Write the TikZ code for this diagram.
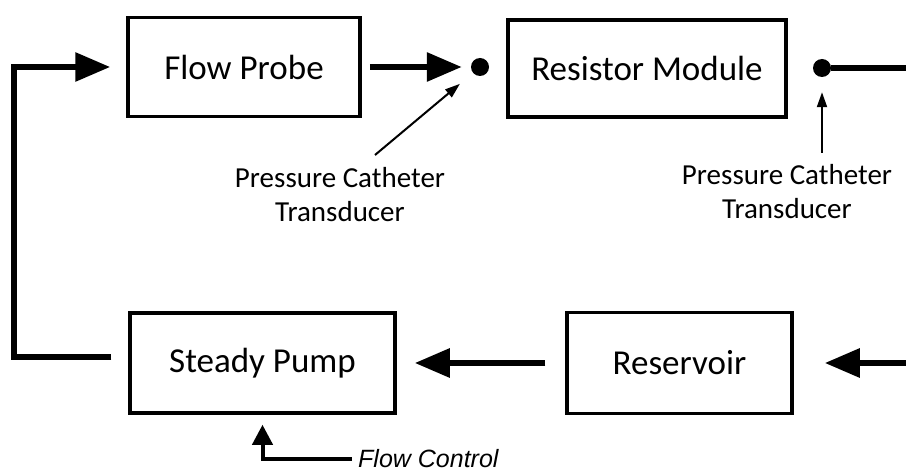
\documentclass[tikz,border=0pt]{standalone}
\usepackage{fontspec}
\setmainfont{Carlito}
\newfontfamily\helvfont{Liberation Sans}
\usetikzlibrary{arrows.meta}

\begin{document}
\begin{tikzpicture}[x=1pt,y=-1pt,
  box/.style={draw, line width=3.5pt, minimum height=99pt, font=\fontsize{35}{42}\selectfont},
  flow/.style={line width=6pt, -{Triangle[length=35pt,width=28pt]}},
  pipe/.style={line width=6pt},
  tap/.style={circle, fill, inner sep=0pt, minimum size=18pt},
  note/.style={align=center, font=\fontsize{29}{34}\selectfont},
  pointer/.style={line width=2pt, -{Triangle[length=15pt,width=10pt]}},
  knob/.style={line width=4pt, -{Triangle[length=20pt,width=20pt]}}]
\useasboundingbox (0,0) rectangle (906,473);
\node[box, minimum width=232pt] (probe) at (244,67) {Flow Probe};
\node[box, minimum width=278pt, minimum height=97pt] (resistor) at (647,68.5) {Resistor Module};
\node[box, minimum width=265pt, minimum height=100pt] (pump) at (262.5,363) {Steady Pump};
\node[box, minimum width=225pt, minimum height=101pt] (reservoir) at (679.5,363) {Reservoir};
\node[tap] (tap1) at (480,67) {};
\node[tap] (tap2) at (822,68) {};
\node[note] (note1) at (340,195) {Pressure Catheter\\Transducer};
\node[note] (note2) at (787,192) {Pressure Catheter\\Transducer};
\node[font=\helvfont\itshape\fontsize{25}{30}\selectfont, anchor=west, inner sep=0pt] (control) at (358,459) {Flow Control};
\coordinate (east1) at (910,68);
\coordinate (east2) at (910,363);
\coordinate (foot1) at (375,155);
\coordinate (foot2) at (822,153);
\draw[flow, shorten <=17pt, shorten >=16pt] ([yshift=6pt]pump.west) -- ++(-114,0) |- (probe.west);
\draw[flow, shorten <=8pt, shorten >=9pt] (probe) -- (tap1);
\draw[pipe] (tap2) -- (east1);
\draw[flow, shorten >=31pt] (east2) -- (reservoir);
\draw[flow, shorten <=20pt, shorten >=18pt] (reservoir) -- (pump);
\draw[pointer, shorten >=17pt] (foot1) -- (tap1);
\draw[pointer, shorten >=15pt] (foot2) -- (tap2);
\draw[knob, shorten >=10pt] ([xshift=-6pt]control.west) -| (pump.south);
\end{tikzpicture}
\end{document}
